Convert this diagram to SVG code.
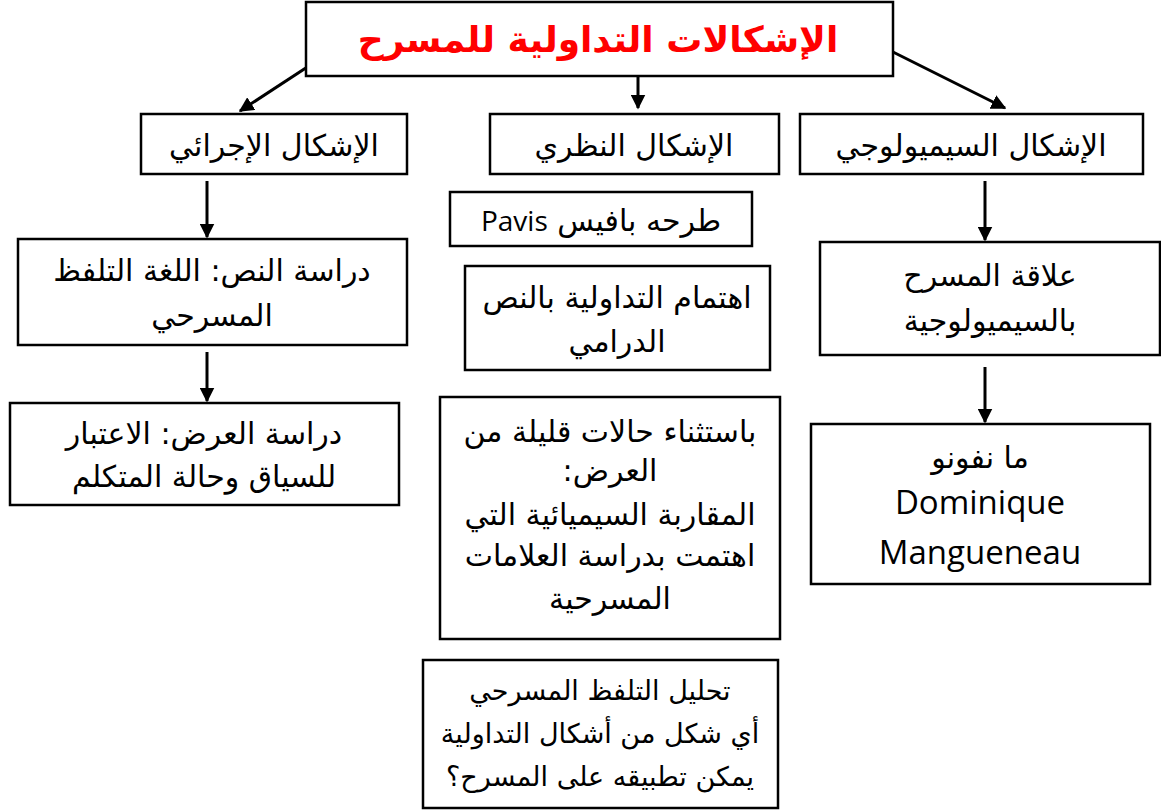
<svg xmlns="http://www.w3.org/2000/svg" width="1161" height="812" viewBox="0 0 1161 812">
<style>
.box{fill:#fff;stroke:#000;stroke-width:2.5}
.t{font-family:"DejaVu Sans",sans-serif;font-size:30px;fill:#000;text-anchor:middle;direction:rtl}
.s{font-size:27px}
.lat{font-family:"Open Sans","DejaVu Sans",sans-serif;font-size:33px;fill:#000;text-anchor:middle}
.title{font-family:"DejaVu Sans",sans-serif;font-size:36px;font-weight:bold;fill:#ff0000;text-anchor:middle;direction:rtl}
.c{stroke:#000;stroke-width:3;fill:none;marker-end:url(#ah)}
</style>
<defs>
<marker id="ah" viewBox="0 0 10 10" refX="9" refY="5" markerWidth="5" markerHeight="5" orient="auto" markerUnits="strokeWidth">
<path d="M0,0 L10,5 L0,10 z" fill="#000"/>
</marker>
</defs>
<rect width="1161" height="812" fill="#fff"/>
<g id="connectors">
<line class="c" x1="318" y1="60" x2="240" y2="111"/>
<line class="c" x1="638" y1="77" x2="638" y2="108"/>
<line class="c" x1="893" y1="52" x2="1005" y2="108"/>
<line class="c" x1="207" y1="181" x2="207" y2="237"/>
<line class="c" x1="985" y1="181" x2="985" y2="240"/>
<line class="c" x1="207" y1="352" x2="207" y2="401"/>
<line class="c" x1="985" y1="367" x2="985" y2="422"/>
</g>
<g id="title">
<rect class="box" x="306" y="2" width="587" height="74"/>
<text class="title" x="598" y="52">الإشكالات التداولية للمسرح</text>
</g>
<g id="n-ijrai">
<rect class="box" x="141" y="114" width="266" height="60"/>
<text class="t" x="274" y="156">الإشكال الإجرائي</text>
</g>
<g id="n-nazari">
<rect class="box" x="490" y="114" width="289" height="60"/>
<text class="t" x="634" y="156">الإشكال النظري</text>
</g>
<g id="n-semio">
<rect class="box" x="800" y="114" width="343" height="60"/>
<text class="t" x="971" y="156">الإشكال السيميولوجي</text>
</g>
<g id="n-nass">
<rect class="box" x="18" y="239" width="389" height="106"/>
<text class="t" x="212" y="281">دراسة النص: اللغة التلفظ</text>
<text class="t" x="212" y="326">المسرحي</text>
</g>
<g id="n-ard">
<rect class="box" x="10" y="403" width="389" height="102"/>
<text class="t" x="204" y="444">دراسة العرض: الاعتبار</text>
<text class="t" x="204" y="487">للسياق وحالة المتكلم</text>
</g>
<g id="n-pavis">
<rect class="box" x="450" y="192" width="302" height="54"/>
<text class="t" x="601" y="231">طرحه بافيس <tspan class="lat" style="font-size:28px">Pavis</tspan></text>
</g>
<g id="n-ihtimam">
<rect class="box" x="465" y="266" width="305" height="104"/>
<text class="t" x="617" y="308">اهتمام التداولية بالنص</text>
<text class="t" x="617" y="352">الدرامي</text>
</g>
<g id="n-istithna">
<rect class="box" x="440" y="397" width="340" height="242"/>
<text class="t" x="610" y="442">باستثناء حالات قليلة من</text>
<text class="t" x="610" y="481">العرض:</text>
<text class="t" x="610" y="525">المقاربة السيميائية التي</text>
<text class="t" x="610" y="566">اهتمت بدراسة العلامات</text>
<text class="t" x="610" y="609">المسرحية</text>
</g>
<g id="n-tahlil">
<rect class="box" x="423" y="660" width="355" height="148"/>
<text class="t s" x="600" y="700">تحليل التلفظ المسرحي</text>
<text class="t s" x="600" y="743">أي شكل من أشكال التداولية</text>
<text class="t s" x="600" y="786">يمكن تطبيقه على المسرح؟</text>
</g>
<g id="n-alaqa">
<rect class="box" x="820" y="242" width="340" height="113"/>
<text class="t" x="990" y="286">علاقة المسرح</text>
<text class="t" x="990" y="331">بالسيميولوجية</text>
</g>
<g id="n-mang">
<rect class="box" x="811" y="424" width="339" height="160"/>
<text class="t" x="980" y="468">ما نفونو</text>
<text class="lat" x="980" y="514">Dominique</text>
<text class="lat" x="980" y="564">Mangueneau</text>
</g>
</svg>
